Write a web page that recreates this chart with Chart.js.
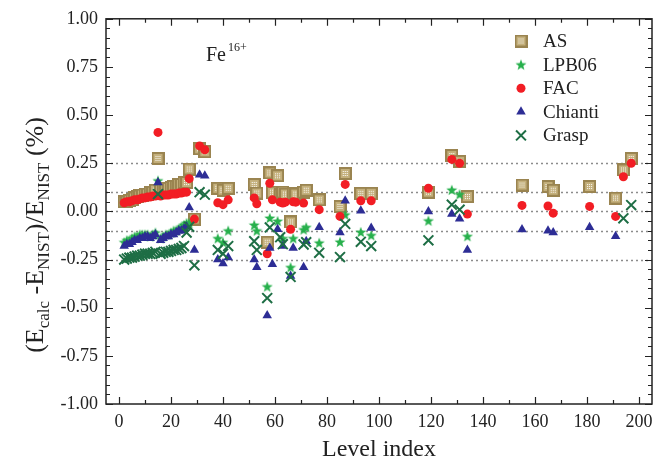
<!DOCTYPE html>
<html>
<head>
<meta charset="utf-8">
<script src="https://cdn.jsdelivr.net/npm/chart.js@4"></script>
<style>
  html, body { margin: 0; padding: 0; background: #fff; }
  #wrap { width: 661px; height: 464px; }
</style>
</head>
<body>
<div id="wrap"><canvas id="chart" width="661" height="464"></canvas></div>
<script>
// level index shared by all series (null = no point for that method)
const levels = [2, 3, 4, 5, 6, 7, 8, 9, 10, 11, 12, 13, 14, 15, 16, 17, 18, 19, 20, 21, 22, 23, 24, 25, 26, 27,
  29, 31, 33, 38, 40, 42, 52, 53,
  57, 58, 59, 61, 62, 63, 64, 66, 67, 68, 71, 72,
  77, 85, 87, 93, 97, 119, 128, 131, 134,
  155, 165, 167, 181, 191, 194, 197];

const asVals = [0.05, 0.05, 0.055, 0.06, 0.07, 0.075, 0.08, 0.085, 0.09, 0.09, 0.1, 0.1, 0.11, 0.275, 0.11, 0.115, 0.12, 0.12, 0.125, 0.13, 0.13, 0.14, 0.14, 0.15, 0.15, 0.22,
  -0.04, 0.325, 0.31, 0.12, 0.11, 0.12, 0.14, 0.095,
  -0.16, 0.2, 0.10, 0.185, 0.086, 0.10, 0.09, -0.055, 0.094, 0.09, 0.10, 0.11,
  0.06, 0.026, 0.197, 0.094, 0.094, 0.10, 0.29, 0.26, 0.077,
  0.137, 0.129, 0.11, 0.129, 0.069, 0.215, 0.275];

const lpbVals = [-0.16, -0.15, -0.15, -0.14, -0.13, -0.13, -0.12, -0.12, -0.12, -0.12, -0.13, -0.12, -0.11, 0.16, -0.14, -0.13, -0.12, -0.12, -0.11, -0.1, -0.1, -0.09, -0.08, -0.07, -0.06, -0.06,
  null, null, null, -0.14, -0.16, -0.1, -0.07, -0.1,
  -0.39, -0.034, null, -0.05, null, -0.14, null, -0.29, -0.14, null, -0.094, -0.082,
  -0.163, -0.158, -0.017, -0.107, -0.124, -0.048, 0.112, 0.089, -0.129,
  null, null, null, null, null, null, null];

const facVals = [0.045, 0.05, 0.05, 0.055, 0.06, 0.06, 0.065, 0.07, 0.07, 0.075, 0.075, 0.08, 0.08, 0.41, 0.08, 0.085, 0.085, 0.085, 0.09, 0.09, 0.09, 0.095, 0.095, 0.1, 0.1, 0.17,
  -0.04, 0.34, 0.32, 0.045, 0.035, 0.06, 0.07, 0.04,
  -0.22, 0.146, 0.06, null, 0.048, 0.043, 0.048, -0.093, 0.05, 0.048, 0.043, null,
  0.009, -0.026, 0.14, 0.055, 0.055, 0.12, 0.27, 0.25, -0.014,
  0.031, 0.028, -0.009, 0.026, -0.026, 0.18, 0.25];

const chiantiVals = [-0.18, -0.17, -0.17, -0.16, -0.15, -0.15, -0.14, -0.14, -0.13, -0.13, -0.14, -0.13, -0.12, 0.15, -0.15, -0.14, -0.13, -0.13, -0.12, -0.12, -0.11, -0.1, -0.1, -0.09, -0.08, 0.02,
  -0.2, 0.19, 0.185, -0.25, -0.27, -0.24, -0.25, -0.29,
  -0.54, -0.19, -0.275, -0.093, null, -0.18, null, -0.335, -0.19, null, -0.29, -0.155,
  -0.082, -0.11, 0.055, 0.004, -0.086, 0.0, -0.014, -0.038, -0.2,
  -0.094, -0.1, -0.11, -0.082, -0.129, null, null];

const graspVals = [-0.25, -0.245, -0.24, -0.24, -0.235, -0.23, -0.23, -0.225, -0.22, -0.22, -0.22, -0.215, -0.21, 0.09, -0.22, -0.215, -0.21, -0.21, -0.205, -0.2, -0.2, -0.195, -0.19, -0.18, -0.11, -0.08,
  -0.28, 0.10, 0.087, -0.2, -0.22, -0.18, -0.155, -0.2,
  -0.45, -0.083, null, null, -0.134, -0.17, null, -0.34, null, null, -0.172, -0.16,
  -0.215, -0.237, -0.065, -0.158, -0.18, -0.15, 0.035, 0.009, null,
  null, null, null, null, null, -0.036, 0.033];

const seriesNames = ['AS', 'LPB06', 'FAC', 'Chianti', 'Grasp'];
const refLines = [0.25, 0.10, 0.0, -0.10, -0.25];

const FONT = '"Liberation Serif", "Times New Roman", serif';

function makeMarker(size, draw) {
  const c = document.createElement('canvas');
  c.width = size; c.height = size;
  draw(c.getContext('2d'), size);
  return c;
}

// olive square with white dotted pattern
const asMarker = makeMarker(13, (g, s) => {
  g.fillStyle = '#9a8450';
  g.fillRect(0, 0, s, s);
  g.fillStyle = '#c4b07c';
  g.fillRect(2, 2, s - 4, s - 4);
  g.fillStyle = '#ffffff';
  [[4, 4], [6, 4], [8, 4], [4, 6], [8, 6], [4, 8], [6, 8], [8, 8]].forEach(([x, y]) => g.fillRect(x, y, 1, 1));
  g.fillRect(6, 6, 1, 1);
});

// filled 5 point star
const starMarker = makeMarker(12, (g, s) => {
  const cx = s / 2, cy = s / 2 + 0.5, R = 5.8, r = 2.4;
  g.beginPath();
  for (let i = 0; i < 10; i++) {
    const rad = -Math.PI / 2 + i * Math.PI / 5;
    const rr = i % 2 === 0 ? R : r;
    g.lineTo(cx + rr * Math.cos(rad), cy + rr * Math.sin(rad));
  }
  g.closePath();
  g.fillStyle = '#27b04c';
  g.fill();
});

function series(vals) {
  return levels.map((x, i) => ({ x: x, y: vals[i] })).filter(p => p.y !== null);
}

const datasets = [
  { label: seriesNames[0], data: series(asVals), pointStyle: asMarker, order: 5 },
  { label: seriesNames[1], data: series(lpbVals), pointStyle: starMarker, order: 4 },
  { label: seriesNames[2], data: series(facVals), pointStyle: 'circle', pointRadius: 4.5,
    backgroundColor: '#f21d24', borderColor: '#f21d24', borderWidth: 0, order: 3 },
  { label: seriesNames[3], data: series(chiantiVals), pointStyle: 'triangle', pointRadius: 5.5,
    backgroundColor: '#2d2d95', borderColor: '#2d2d95', borderWidth: 0, order: 2 },
  { label: seriesNames[4], data: series(graspVals), pointStyle: 'crossRot', pointRadius: 7,
    backgroundColor: '#1e6e45', borderColor: '#1e6e45', borderWidth: 2, order: 1 }
];

function legendSymbol(ctx, i, x, y) {
  ctx.save();
  if (i === 0) ctx.drawImage(asMarker, x - 6.5, y - 6.5);
  else if (i === 1) ctx.drawImage(starMarker, x - 6, y - 6);
  else if (i === 2) {
    ctx.fillStyle = '#f21d24';
    ctx.beginPath(); ctx.arc(x, y, 4.5, 0, Math.PI * 2); ctx.fill();
  } else if (i === 3) {
    ctx.fillStyle = '#2d2d95';
    ctx.beginPath();
    for (let k = 0; k < 3; k++) {
      const rad = -Math.PI / 2 + k * 2 * Math.PI / 3;
      ctx.lineTo(x + 5.5 * Math.cos(rad), y + 5.5 * Math.sin(rad));
    }
    ctx.closePath(); ctx.fill();
  } else {
    ctx.strokeStyle = '#1e6e45'; ctx.lineWidth = 2;
    const d = 7 * Math.SQRT1_2;
    ctx.beginPath();
    ctx.moveTo(x - d, y - d); ctx.lineTo(x + d, y + d);
    ctx.moveTo(x - d, y + d); ctx.lineTo(x + d, y - d);
    ctx.stroke();
  }
  ctx.restore();
}

const decorations = {
  id: 'decorations',
  beforeDatasetsDraw(chart) {
    const { ctx, chartArea: a, scales: { y } } = chart;
    ctx.save();
    ctx.strokeStyle = '#8c8c8c';
    ctx.lineWidth = 1.4;
    ctx.setLineDash([2, 3]);
    refLines.forEach(v => {
      const py = Math.round(y.getPixelForValue(v)) + 0.5;
      ctx.beginPath(); ctx.moveTo(a.left, py); ctx.lineTo(a.right, py); ctx.stroke();
    });
    ctx.restore();
  },
  afterDatasetsDraw(chart) {
    const { ctx, chartArea: a, scales: { x, y } } = chart;
    ctx.save();
    ctx.strokeStyle = '#222';
    ctx.lineWidth = 1.5;
    ctx.strokeRect(a.left, a.top, a.right - a.left, a.bottom - a.top);
    ctx.lineWidth = 1.2;
    ctx.beginPath();
    for (let v = 0; v <= 200; v += 10) {
      const px = Math.round(x.getPixelForValue(v)) + 0.5;
      const len = v % 20 === 0 ? 7 : 4;
      ctx.moveTo(px, a.bottom); ctx.lineTo(px, a.bottom - len);
      ctx.moveTo(px, a.top); ctx.lineTo(px, a.top + len);
    }
    for (let i = -20; i <= 20; i++) {
      const py = Math.round(y.getPixelForValue(i * 0.05)) + 0.5;
      const len = i % 5 === 0 ? 7 : 4;
      ctx.moveTo(a.left, py); ctx.lineTo(a.left + len, py);
      ctx.moveTo(a.right, py); ctx.lineTo(a.right - len, py);
    }
    ctx.stroke();
    ctx.restore();
  },
  afterDraw(chart) {
    const { ctx } = chart;
    ctx.save();
    ctx.fillStyle = '#222';
    // legend
    ctx.textBaseline = 'middle';
    ctx.font = '19px ' + FONT;
    chart.data.datasets.forEach((ds, i) => {
      const ly = 41 + i * 23.6;
      legendSymbol(ctx, i, 521, ly);
      ctx.fillStyle = '#222';
      ctx.fillText(ds.label, 543, ly + 1);
    });
    // ion label
    ctx.textBaseline = 'alphabetic';
    ctx.font = '20px ' + FONT;
    ctx.fillText('Fe', 206, 61);
    ctx.font = '12px ' + FONT;
    ctx.fillText('16+', 228, 51);
    // y axis title with subscripts
    const parts = [['(E', 26, 0], ['calc', 17, 6], [' -E', 26, 0], ['NIST', 17, 6], [')/E', 26, 0], ['NIST', 17, 6], [' (%)', 26, 0]];
    ctx.translate(34, 235);
    ctx.rotate(-Math.PI / 2);
    let total = 0;
    parts.forEach(([t, s]) => { ctx.font = s + 'px ' + FONT; total += ctx.measureText(t).width; });
    let cx = -total / 2;
    parts.forEach(([t, s, dy]) => {
      ctx.font = s + 'px ' + FONT;
      ctx.fillText(t, cx, 9 + dy);
      cx += ctx.measureText(t).width;
    });
    ctx.restore();
  }
};

new Chart(document.getElementById('chart'), {
  type: 'scatter',
  data: { datasets: datasets },
  options: {
    responsive: false,
    animation: false,
    devicePixelRatio: 1,
    layout: { padding: { left: 0, right: 9, top: 16, bottom: 0 } },
    plugins: { legend: { display: false }, tooltip: { enabled: false } },
    scales: {
      x: {
        type: 'linear',
        min: -5,
        max: 205,
        grid: { display: false, drawTicks: false },
        border: { display: false },
        ticks: {
          stepSize: 20,
          includeBounds: false,
          autoSkip: false,
          maxRotation: 0,
          padding: 7,
          color: '#222',
          font: { family: FONT, size: 18 }
        },
        title: {
          display: true,
          text: 'Level index',
          color: '#222',
          font: { family: FONT, size: 24 },
          padding: { top: 0, bottom: 0 }
        },
        afterFit: s => { s.height = 60; }
      },
      y: {
        min: -1,
        max: 1,
        grid: { display: false, drawTicks: false },
        border: { display: false },
        ticks: {
          stepSize: 0.25,
          padding: 8,
          color: '#222',
          font: { family: FONT, size: 18 },
          callback: v => v.toFixed(2)
        },
        afterFit: s => { s.width = 106; }
      }
    }
  },
  plugins: [decorations]
});
</script>
</body>
</html>
